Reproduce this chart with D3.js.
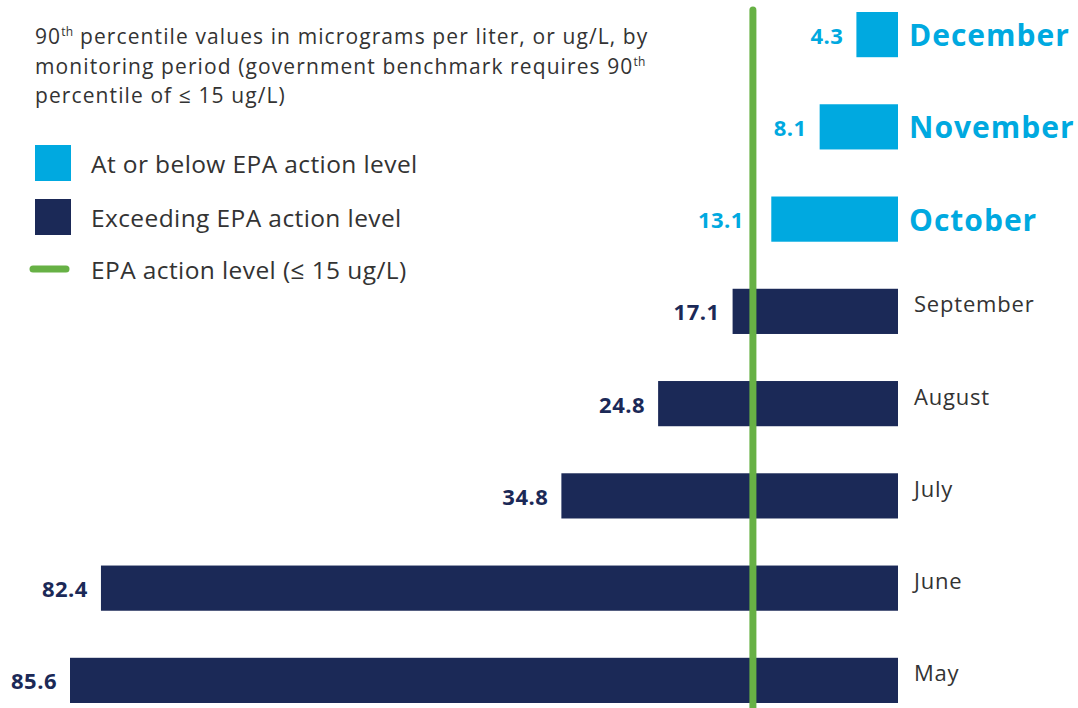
<!DOCTYPE html>
<html>
<head>
<meta charset="utf-8">
<script src="https://cdn.jsdelivr.net/npm/d3@7"></script>
<style>
  html, body { margin: 0; padding: 0; background: #fff; }
  svg { display: block; }
</style>
</head>
<body>
<svg id="chart" width="1078" height="708"></svg>
<script>
// ---- data ----
const months = ["December", "November", "October", "September", "August", "July", "June", "May"];
const values = [4.3, 8.1, 13.1, 17.1, 24.8, 34.8, 82.4, 85.6];
const actionLevel = 15;
const legendLabels = ["At or below EPA action level", "Exceeding EPA action level", "EPA action level (\u2264 15 ug/L)"];
const titleLines = [
  [["90", false], ["th", true], [" percentile values in micrograms per liter, or ug/L, by", false]],
  [["monitoring period (government benchmark requires 90", false], ["th", true]],
  [["percentile of \u2264 15 ug/L)", false]]
];

// ---- styles ----
const LIGHT = "#00A9E0";
const NAVY = "#1B2957";
const GREEN = "#67B145";
const TEXT = "#333333";
const FONT = "'Open Sans', Lato, sans-serif";

const data = months.map((m, i) => ({ month: m, value: values[i] }));

const svg = d3.select("#chart");

const x = d3.scaleLinear().domain([0, 85.6]).range([898, 70]);
const y = d3.scaleBand().domain(months).range([12, 703]).paddingInner(0.51);

// bars
svg.append("g").selectAll("rect").data(data).join("rect")
  .attr("x", d => x(d.value))
  .attr("y", d => y(d.month))
  .attr("width", d => x(0) - x(d.value))
  .attr("height", y.bandwidth())
  .attr("fill", d => d.value <= actionLevel ? LIGHT : NAVY);

// action level line
svg.append("line")
  .attr("x1", x(actionLevel)).attr("x2", x(actionLevel))
  .attr("y1", 10).attr("y2", 720)
  .attr("stroke", GREEN).attr("stroke-width", 7).attr("stroke-linecap", "round");

// value labels
const vl = svg.append("g").selectAll("text").data(data).join("text")
  .attr("font-family", FONT)
  .attr("font-weight", 700)
  .attr("font-size", 22)
  .attr("letter-spacing", 0.5)
  .attr("text-anchor", "end")
  .attr("dominant-baseline", "central")
  .attr("fill", d => d.value <= actionLevel ? LIGHT : NAVY)
  .attr("y", d => y(d.month) + y.bandwidth() / 2)
  .text(d => d.value.toFixed(1));
vl.each(function(d) {
  const w = this.getComputedTextLength();
  let xe = x(d.value) - 13;
  const lx = x(actionLevel);
  if (xe > lx - 6 && xe - w < lx + 6) xe = lx - 9;
  d3.select(this).attr("x", xe);
});

// month labels
svg.append("g").selectAll("text").data(data).join("text")
  .attr("font-family", FONT)
  .attr("x", d => x(0) + (d.value <= actionLevel ? 11 : 16))
  .attr("y", d => y(d.month) + y.bandwidth() / 2 + (d.value <= actionLevel ? 0 : 1))
  .attr("dominant-baseline", d => d.value <= actionLevel ? "central" : "alphabetic")
  .attr("font-weight", d => d.value <= actionLevel ? 700 : 400)
  .attr("font-size", d => d.value <= actionLevel ? 30 : 22)
  .attr("letter-spacing", d => d.value <= actionLevel ? 1.0 : 0.8)
  .attr("fill", d => d.value <= actionLevel ? LIGHT : TEXT)
  .text(d => d.month);

// title
const title = svg.append("text")
  .attr("font-family", FONT)
  .attr("font-size", 21)
  .attr("letter-spacing", 1.1)
  .attr("fill", TEXT);
titleLines.forEach((line, li) => {
  line.forEach(([t, sup], ti) => {
    const ts = title.append("tspan").text(t);
    if (ti === 0) ts.attr("x", 35).attr("y", 44 + li * 29.5);
    if (sup) ts.attr("font-size", 12).attr("letter-spacing", 0.3).attr("dy", -8);
    else if (ti > 0 && line[ti - 1][1]) ts.attr("dy", 8);
  });
});

// legend
const lg = svg.append("g").attr("font-family", FONT).attr("font-size", 24.5)
  .attr("letter-spacing", 0.4).attr("fill", TEXT);
const legendY = [163, 217, 269];
lg.append("rect").attr("x", 35).attr("y", legendY[0] - 18).attr("width", 36).attr("height", 36).attr("fill", LIGHT);
lg.append("rect").attr("x", 35).attr("y", legendY[1] - 18).attr("width", 36).attr("height", 36).attr("fill", NAVY);
lg.append("line").attr("x1", 33).attr("x2", 66).attr("y1", legendY[2]).attr("y2", legendY[2])
  .attr("stroke", GREEN).attr("stroke-width", 7).attr("stroke-linecap", "round");
lg.selectAll("text").data(legendLabels).join("text")
  .attr("x", 91)
  .attr("y", (d, i) => legendY[i])
  .attr("dominant-baseline", "central")
  .text(d => d);
</script>
</body>
</html>
